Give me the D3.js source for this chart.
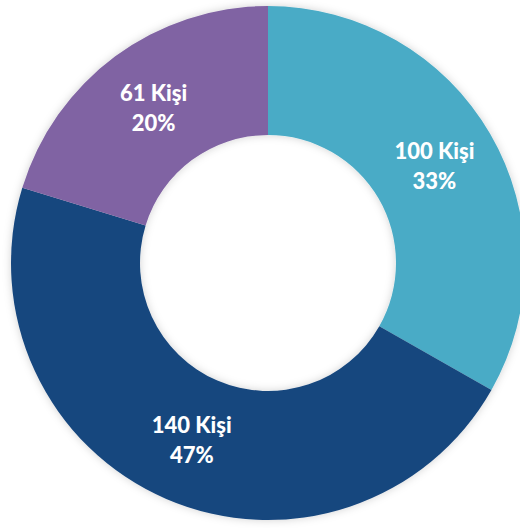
<!DOCTYPE html>
<html>
<head>
<meta charset="utf-8">
<script src="https://cdn.jsdelivr.net/npm/d3@7"></script>
<style>
	body { margin: 0; background: #ffffff; }
	#chart { width: 520px; height: 528px; overflow: hidden; }
</style>
</head>
<body>
<div id="chart"></div>
<script>
// data, clockwise from 12 o'clock
var people = [100, 140, 61];
var percents = ["33%", "47%", "20%"];
var labelUnit = "Kişi";
var colors = ["#4aabc6", "#17477e", "#8064a3"];

var width = 520,
	height = 528;
var cx = 268,
	cy = 263;
var outerR = 257,
	innerR = 128;

var svg = d3
	.select("#chart")
	.append("svg")
	.attr("width", width)
	.attr("height", height);

// soft shadow round the ring
var defs = svg.append("defs");
var filter = defs
	.append("filter")
	.attr("id", "glow")
	.attr("x", "-10%")
	.attr("y", "-10%")
	.attr("width", "120%")
	.attr("height", "120%");
filter
	.append("feDropShadow")
	.attr("dx", 0)
	.attr("dy", 0)
	.attr("stdDeviation", 4)
	.attr("flood-color", "#000")
	.attr("flood-opacity", 0.18);

var g = svg
	.append("g")
	.attr("transform", "translate(" + cx + "," + cy + ")");

var pie = d3
	.pie()
	.sort(null)
	.value((d) => d);

var arc = d3.arc().innerRadius(innerR).outerRadius(outerR);

var arcs = pie(people);

g.append("g")
	.attr("filter", "url(#glow)")
	.selectAll("path")
	.data(arcs)
	.enter()
	.append("path")
	.attr("d", arc)
	.attr("fill", (d, i) => colors[i]);

var labels = g
	.selectAll(".label")
	.data(arcs)
	.enter()
	.append("text")
	.attr("class", "label")
	.attr("transform", (d) => "translate(" + arc.centroid(d) + ")")
	.attr("text-anchor", "middle")
	.attr("fill", "#ffffff")
	.style("font-family", "Lato, 'Open Sans', sans-serif")
	.style("font-weight", "900")
	.style("font-size", "22px");

labels
	.append("tspan")
	.attr("x", 0)
	.attr("y", -7)
	.text((d) => d.data + " " + labelUnit);

labels
	.append("tspan")
	.attr("x", 0)
	.attr("y", 23)
	.text((d, i) => percents[i]);
</script>
</body>
</html>
